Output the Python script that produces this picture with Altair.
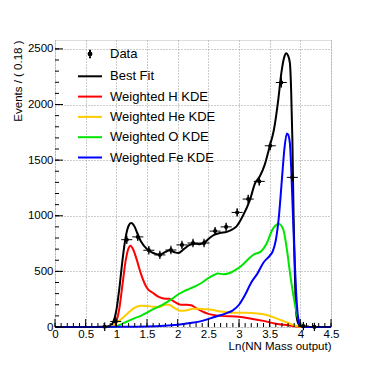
import altair as alt
import pandas as pd

# ---------------- data histogram (bin width 0.18) ----------------
bin_centers = [0.09, 0.27, 0.45, 0.63, 0.81, 0.99, 1.17, 1.35, 1.53, 1.71, 1.89, 2.07,
               2.25, 2.43, 2.61, 2.79, 2.97, 3.15, 3.33, 3.51, 3.69, 3.87, 4.05, 4.23, 4.41]
data_counts = [0, 0, 0, 0, 2, 50, 785, 810, 690, 648, 692, 738,
               755, 755, 862, 900, 1030, 1150, 1309, 1629, 2198, 1345, 8, 1, 0]

# ---------------- curves ----------------
fit_x = [0, 0.5, 0.8, 0.9, 0.95, 1.0, 1.05, 1.1, 1.15, 1.2, 1.24, 1.3, 1.35, 1.4, 1.5, 1.6,
         1.71, 1.8, 1.87, 1.95, 2.01, 2.1, 2.2, 2.3, 2.36, 2.45, 2.52, 2.6, 2.69, 2.8, 2.9,
         2.96, 3.06, 3.18, 3.26, 3.34, 3.42, 3.5, 3.57, 3.64, 3.69, 3.74, 3.77, 3.8, 3.83,
         3.85, 3.87, 3.89, 3.91, 3.93, 3.96, 4.0, 4.1, 4.5]
fit_y = [0, 0, 2, 12, 45, 150, 350, 600, 800, 910, 935, 900, 830, 770, 700, 665,
         650, 675, 690, 672, 665, 700, 740, 748, 745, 765, 800, 830, 845, 855, 880,
         905, 995, 1145, 1290, 1355, 1460, 1623, 1775, 2042, 2282, 2431, 2461, 2440, 2372,
         2132, 1690, 1000, 500, 150, 40, 10, 1, 0]

h_x = [0, 0.85, 0.95, 1.0, 1.05, 1.1, 1.15, 1.2, 1.23, 1.28, 1.33, 1.4, 1.5, 1.6, 1.7, 1.8,
       1.86, 1.95, 2.05, 2.15, 2.22, 2.3, 2.4, 2.5, 2.7, 3.0, 3.2, 3.4, 3.6, 3.8, 3.95, 4.05, 4.5]
h_y = [0, 0, 8, 50, 170, 380, 590, 710, 731, 690, 610, 480, 350, 305, 268, 255,
       255, 225, 200, 200, 195, 170, 140, 118, 100, 92, 75, 55, 30, 15, 3, 0, 0]

he_x = [0, 0.85, 0.95, 1.0, 1.1, 1.2, 1.3, 1.4, 1.5, 1.6, 1.7, 1.8, 1.85, 1.95, 2.05, 2.15,
        2.25, 2.35, 2.45, 2.55, 2.7, 2.9, 3.1, 3.3, 3.45, 3.6, 3.7, 3.8, 3.9, 4.0, 4.5]
he_y = [0, 0, 10, 35, 80, 130, 175, 190, 188, 183, 180, 200, 200, 170, 145, 150,
        165, 165, 160, 155, 140, 128, 127, 122, 108, 80, 58, 38, 15, 2, 0]

o_x = [0, 0.95, 1.0, 1.1, 1.2, 1.3, 1.4, 1.5, 1.6, 1.7, 1.8, 1.9, 2.0, 2.1, 2.2, 2.3, 2.4,
       2.5, 2.6, 2.65, 2.75, 2.85, 2.95, 3.05, 3.15, 3.25, 3.35, 3.45, 3.55, 3.65, 3.72,
       3.78, 3.84, 3.9, 3.95, 4.0, 4.05, 4.1, 4.2, 4.5]
o_y = [0, 0, 5, 30, 55, 80, 100, 130, 160, 185, 215, 250, 290, 320, 345, 370, 400,
       440, 470, 480, 475, 485, 515, 555, 610, 655, 675, 750, 880, 925, 880,
       700, 450, 240, 100, 35, 10, 2, 0, 0]

fe_x = [0, 1.0, 1.5, 2.0, 2.2, 2.4, 2.6, 2.8, 2.9, 3.0, 3.1, 3.2, 3.3, 3.4, 3.5, 3.55,
        3.6, 3.65, 3.7, 3.74, 3.78, 3.8, 3.83, 3.86, 3.9, 3.93, 3.96, 4.0, 4.05, 4.5]
fe_y = [0, 2, 5, 20, 35, 55, 90, 125, 150, 200, 290, 400, 480, 580, 640, 680,
        780, 990, 1330, 1600, 1740, 1730, 1650, 1300, 700, 330, 100, 10, 0, 0]

series_names = ["Data", "Best Fit", "Weighted H KDE", "Weighted He KDE",
                "Weighted O KDE", "Weighted Fe KDE"]
series_colors = ["#000000", "#000000", "#ff0000", "#ffcc00", "#00e600", "#0000ff"]

line_symbol = "M-1,0L1,0"
data_symbol = ("M0,-0.35L0,0.35M0.12,0A0.12,0.12,0,1,1,-0.12,0"
               "A0.12,0.12,0,1,1,0.12,0Z")
series_shapes = [data_symbol, line_symbol, line_symbol, line_symbol, line_symbol, line_symbol]

x_major = [0, 0.5, 1, 1.5, 2, 2.5, 3, 3.5, 4, 4.5]
x_minor = [round(i * 0.1, 1) for i in range(46)]
y_major = [0, 500, 1000, 1500, 2000, 2500]
y_minor = [i * 100 for i in range(26)]

XMAX = 4.5
YMAX = 2580
W, H = 276, 287
FONT = "Liberation Sans"

# ---------------- tables ----------------
rows = []
for name, xs, ys in [("Best Fit", fit_x, fit_y), ("Weighted H KDE", h_x, h_y),
                     ("Weighted He KDE", he_x, he_y), ("Weighted O KDE", o_x, o_y),
                     ("Weighted Fe KDE", fe_x, fe_y)]:
    for i, (a, b) in enumerate(zip(xs, ys)):
        rows.append({"x": a, "y": b, "series": name, "order": i})
curves = pd.DataFrame(rows)

hist = pd.DataFrame({"x": bin_centers, "y": data_counts, "series": "Data"})

xscale = alt.Scale(domain=[0, XMAX], nice=False, zero=False)
yscale = alt.Scale(domain=[0, YMAX], nice=False)
color_scale = alt.Scale(domain=series_names, range=series_colors)
shape_scale = alt.Scale(domain=series_names, range=series_shapes)

legend = alt.Legend(title=None, orient="none", legendX=22, legendY=1,
                    symbolSize=576, symbolStrokeWidth=2, labelFont=FONT,
                    labelFontSize=13, labelColor="black", labelOffset=7,
                    rowPadding=0.3, padding=0)

xaxis = alt.Axis(values=x_major, format="~g", title="Ln(NN Mass output)",
                 labelFont=FONT, labelFontSize=11.5, labelColor="black",
                 labelPadding=1, labelFlush=False, labelOverlap=False,
                 ticks=False, domain=False,
                 grid=True, gridDash=[1, 2], gridColor="#999999",
                 titleFont=FONT, titleFontSize=11.5, titleFontWeight="normal",
                 titleColor="black", titleAnchor="end", titleAlign="right",
                 titleX=W, titleY=22, titleBaseline="alphabetic")
yaxis = alt.Axis(values=y_major, format="d", title="Events / ( 0.18 )",
                 labelFont=FONT, labelFontSize=11.5, labelColor="black",
                 labelPadding=2, labelFlush=False, labelOverlap=False,
                 ticks=False, domain=False,
                 grid=True, gridDash=[1, 2], gridColor="#999999",
                 titleFont=FONT, titleFontSize=11.5, titleFontWeight="normal",
                 titleColor="black", titleAngle=270, titleAlign="right",
                 titleBaseline="alphabetic", titleX=-34, titleY=0)


def X(field):
    return alt.X(field, scale=xscale, axis=xaxis)


def Y(field):
    return alt.Y(field, scale=yscale, axis=yaxis)


lines = alt.Chart(curves).mark_line(strokeWidth=2, interpolate="monotone").encode(
    x=X("x:Q"), y=Y("y:Q"),
    color=alt.Color("series:N", scale=color_scale, legend=legend),
    order="order:Q",
)

xerr = alt.Chart(hist).transform_calculate(
    lo="datum.x - 0.09", hi="datum.x + 0.09"
).mark_rule(color="black", strokeWidth=1).encode(
    x=X("lo:Q"), x2="hi:Q", y=Y("y:Q"))

yerr = alt.Chart(hist).transform_calculate(
    lo="datum.y - sqrt(datum.y)", hi="datum.y + sqrt(datum.y)"
).mark_rule(color="black", strokeWidth=1).encode(
    x=X("x:Q"), y=Y("lo:Q"), y2="hi:Q")

points = alt.Chart(hist).transform_filter("datum.y > 0").mark_point(
    filled=False, fill="black", size=576, strokeWidth=1.2, opacity=1).encode(
    x=X("x:Q"), y=Y("y:Q"),
    color=alt.Color("series:N", scale=color_scale, legend=legend),
    shape=alt.Shape("series:N", scale=shape_scale, legend=legend),
)

xt_minor = alt.Chart(pd.DataFrame({"v": x_minor})).mark_rule(color="black").encode(
    x=X("v:Q"), y=alt.value(H), y2=alt.value(H - 4))
xt_major = alt.Chart(pd.DataFrame({"v": x_major})).mark_rule(color="black").encode(
    x=X("v:Q"), y=alt.value(H), y2=alt.value(H - 8))
yt_minor = alt.Chart(pd.DataFrame({"v": y_minor})).mark_rule(color="black").encode(
    y=Y("v:Q"), x=alt.value(0), x2=alt.value(4))
yt_major = alt.Chart(pd.DataFrame({"v": y_major})).mark_rule(color="black").encode(
    y=Y("v:Q"), x=alt.value(0), x2=alt.value(8))

chart = alt.layer(lines, xerr, yerr, points, xt_minor, xt_major, yt_minor, yt_major).properties(
    width=W, height=H,
    autosize=alt.AutoSizeParams(type="none"),
    padding={"left": 47, "top": 32, "right": 20, "bottom": 33},
).configure_view(stroke="black", strokeWidth=1).configure(background="white")

chart.save("out.html", embed_options={"renderer": "svg", "actions": False})
